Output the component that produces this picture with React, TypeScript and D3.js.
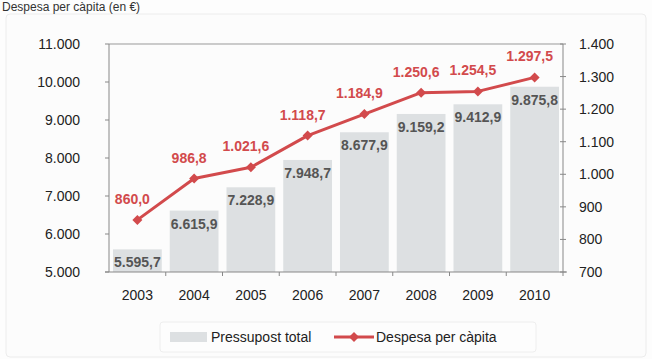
import React from "react";
import * as d3 from "d3";

const years = ["2003", "2004", "2005", "2006", "2007", "2008", "2009", "2010"];
const budget = [5595.7, 6615.9, 7228.9, 7948.7, 8677.9, 9159.2, 9412.9, 9875.8];
const perCapita = [860.0, 986.8, 1021.6, 1118.7, 1184.9, 1250.6, 1254.5, 1297.5];
const leftTicks = [5000, 6000, 7000, 8000, 9000, 10000, 11000];
const rightTicks = [700, 800, 900, 1000, 1100, 1200, 1300, 1400];

const W = 652, H = 359;
const L = 109, R = 563, T = 44, B = 272;
const RED = "#d24a4c";
const FONT = "'Liberation Sans', Arial, sans-serif";

const fmtInt = (v: number) => d3.format(",")(v).replace(/,/g, ".");
const fmtDec = (v: number) => {
  const s = d3.format(",.1f")(v);
  return s.replace(/,/g, "#").replace(".", ",").replace(/#/g, ".");
};

export default function App() {
  const x = d3.scaleBand<string>().domain(years).range([L, R]).paddingInner(0.14).paddingOuter(0.07);
  const yL = d3.scaleLinear().domain([5000, 11000]).range([B, T]);
  const yR = d3.scaleLinear().domain([700, 1400]).range([B, T]);
  const line = d3
    .line<number>()
    .x((_, i) => (x(years[i]) as number) + x.bandwidth() / 2)
    .y((d) => yR(d));
  const step = x.step();

  return (
    <svg width={W} height={H} style={{ position: "absolute", left: 0, top: 0 }} fontFamily={FONT}>
      <rect x={0} y={0} width={W} height={H} fill="#fdfdfd" />
      <rect x={6} y={14} width={640} height={343} rx={4} fill="#fcfcfc" stroke="#ececec" />
      <text x={2} y={11} fontSize={12} fill="#333">Despesa per càpita (en €)</text>

      {/* bars */}
      {budget.map((v, i) => (
        <rect key={"b" + i} x={x(years[i])} y={yL(v)} width={x.bandwidth()} height={B - yL(v)} fill="#dde0e2" />
      ))}
      {budget.map((v, i) => (
        <text key={"bl" + i} x={(x(years[i]) as number) + x.bandwidth() / 2} y={yL(v) + 18}
          textAnchor="middle" fontSize={14} fontWeight="bold" fill="#555">{fmtDec(v)}</text>
      ))}

      {/* axes */}
      <line x1={L} x2={R} y1={T} y2={T} stroke="#999" />
      <line x1={L} x2={L} y1={T} y2={B} stroke="#888" />
      <line x1={R} x2={R} y1={T} y2={B} stroke="#888" />
      <line x1={L - 4} x2={R + 4} y1={B} y2={B} stroke="#888" />
      {leftTicks.map((t) => (
        <g key={"lt" + t}>
          <line x1={L - 4} x2={L} y1={yL(t)} y2={yL(t)} stroke="#888" />
          <text x={80} y={yL(t) + 5} textAnchor="end" fontSize={14} fill="#222">{fmtInt(t)}</text>
        </g>
      ))}
      {rightTicks.map((t) => (
        <g key={"rt" + t}>
          <line x1={R - 3} x2={R + 3} y1={yR(t)} y2={yR(t)} stroke="#888" />
          <text x={579} y={yR(t) + 5} textAnchor="start" fontSize={14} fill="#222">{fmtInt(t)}</text>
        </g>
      ))}
      {years.map((yv, i) => (
        <g key={"xt" + yv}>
          <line x1={L + i * step + step} x2={L + i * step + step} y1={B} y2={B + 4} stroke="#888" />
          <text x={(x(yv) as number) + x.bandwidth() / 2} y={300} textAnchor="middle" fontSize={14} fill="#222">{yv}</text>
        </g>
      ))}

      {/* line */}
      <path d={line(perCapita) || ""} fill="none" stroke={RED} strokeWidth={3} strokeLinejoin="round" />
      {perCapita.map((v, i) => {
        const cx = (x(years[i]) as number) + x.bandwidth() / 2;
        const cy = yR(v);
        return (
          <g key={"p" + i}>
            <path d={`M${cx},${cy - 5}L${cx + 5},${cy}L${cx},${cy + 5}L${cx - 5},${cy}Z`} fill={RED} />
            <text x={cx - 5} y={cy - 16} textAnchor="middle" fontSize={14} fontWeight="bold" fill={RED}>{fmtDec(v)}</text>
          </g>
        );
      })}

      {/* legend */}
      <rect x={160} y={322} width={376} height={30} rx={3} fill="#fdfdfd" stroke="#eeeeee" />
      <rect x={170} y={332} width={37} height={10} fill="#dde0e2" />
      <text x={211} y={342} fontSize={14} fill="#222">Pressupost total</text>
      <line x1={334} x2={374} y1={337} y2={337} stroke={RED} strokeWidth={3} />
      <path d="M354,332L359,337L354,342L349,337Z" fill={RED} />
      <text x={376} y={342} fontSize={14} fill="#222">Despesa per càpita</text>
    </svg>
  );
}
